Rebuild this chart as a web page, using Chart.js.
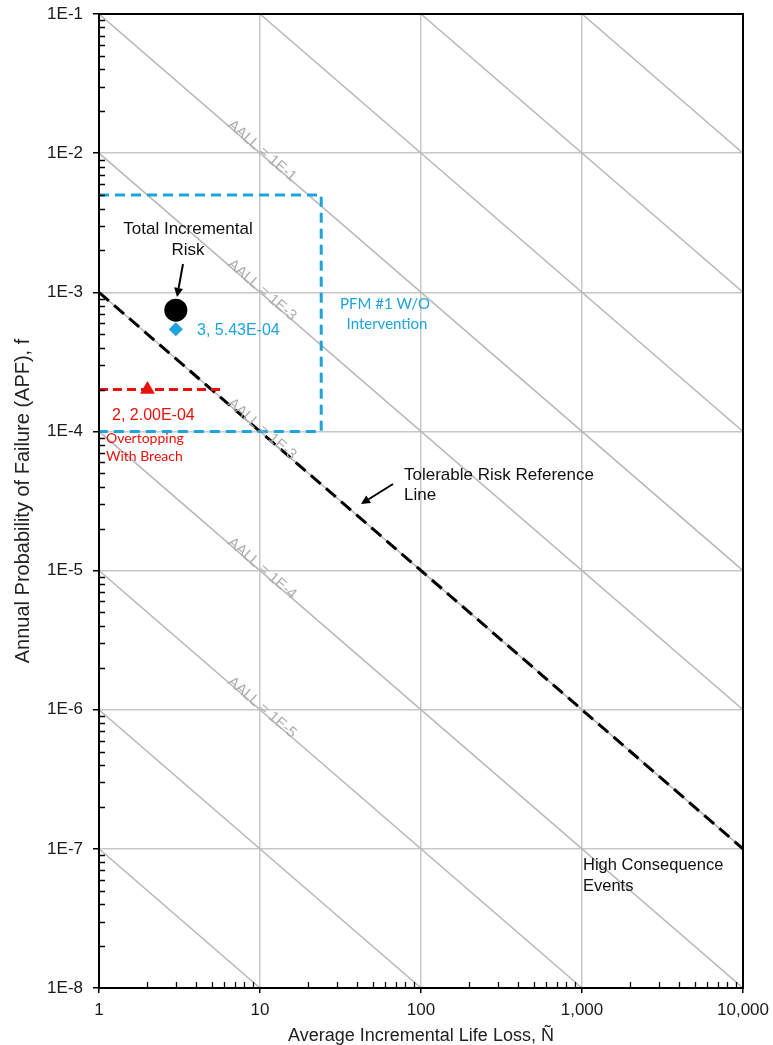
<!DOCTYPE html>
<html>
<head>
<meta charset="utf-8">
<script src="https://cdn.jsdelivr.net/npm/chart.js@4/dist/chart.umd.min.js"></script>
<style>
  html, body { margin: 0; padding: 0; background: #fff; }
  #wrap { width: 773px; height: 1045px; position: relative; }
</style>
</head>
<body>
<div id="wrap"><canvas id="grafico-risco"></canvas></div>
<script>
// eixos (log)
var xTickValues = [1, 10, 100, 1000, 10000];
var xTickLabels = ['1', '10', '100', '1,000', '10,000'];
var yTickValues = [1e-8, 1e-7, 1e-6, 1e-5, 1e-4, 1e-3, 1e-2, 1e-1];
var yTickLabels = ['1E-8', '1E-7', '1E-6', '1E-5', '1E-4', '1E-3', '1E-2', '1E-1'];
var minorSteps = [2, 3, 4, 5, 6, 7, 8, 9];

// linhas AALL (N * f = constante), pontos inicial e final
var aallStartN = [1, 1, 1, 1, 1, 1, 1, 10, 100, 1000];
var aallStartF = [1e-7, 1e-6, 1e-5, 1e-4, 1e-3, 1e-2, 1e-1, 1e-1, 1e-1, 1e-1];
var aallEndN = [10, 100, 1000, 10000, 10000, 10000, 10000, 10000, 10000, 10000];
var aallEndF = [1e-8, 1e-8, 1e-8, 1e-8, 1e-7, 1e-6, 1e-5, 1e-4, 1e-3, 1e-2];

// linha de referencia de risco toleravel
var toleravelN = [1, 10000];
var toleravelF = [1e-3, 1e-7];

// PFM #1 sem intervencao (caixa tracejada)
var pfmBoxN = [1, 24, 24, 1];
var pfmBoxF = [5e-3, 5e-3, 1e-4, 1e-4];

// overtopping with breach
var overtopLineN = [1, 5.8];
var overtopLineF = [2e-4, 2e-4];
var overtopPointN = [2];
var overtopPointF = [2.00e-4];

var pfmPointN = [3];
var pfmPointF = [5.43e-4];

var totalPointN = [3];
var totalPointF = [7.43e-4];

var azul = '#1ea3dd';
var vermelho = '#e8120c';
var cinza = '#b8b8b8';

function pts(xs, ys) {
    return xs.map(function (x, i) { return { x: x, y: ys[i] }; });
}

function withMinors(majors) {
    var out = [];
    majors.forEach(function (m, i) {
        out.push(m);
        if (i < majors.length - 1) {
            minorSteps.forEach(function (s) { out.push(m * s); });
        }
    });
    return out;
}

function isMajor(v) {
    if (v === undefined || v === null) return false;
    var l = Math.log10(v);
    return Math.abs(l - Math.round(l)) < 1e-6;
}

var datasets = [];

datasets.push({ // total incremental risk
    data: pts(totalPointN, totalPointF),
    pointStyle: 'circle', pointRadius: 11.5,
    backgroundColor: '#000', borderColor: '#000', borderWidth: 0
});
datasets.push({
    data: pts(pfmPointN, pfmPointF),
    pointStyle: 'rectRot', pointRadius: 7,
    backgroundColor: azul, borderColor: azul, borderWidth: 0
});
datasets.push({
    data: pts(overtopPointN, overtopPointF),
    pointStyle: 'triangle', pointRadius: 8.5,
    backgroundColor: vermelho, borderColor: vermelho, borderWidth: 0
});
datasets.push({
    data: pts(overtopLineN, overtopLineF),
    showLine: true, pointRadius: 0,
    borderColor: vermelho, borderWidth: 3, borderDash: [9, 5]
});
datasets.push({
    data: pts(pfmBoxN, pfmBoxF),
    showLine: true, pointRadius: 0,
    borderColor: azul, borderWidth: 3, borderDash: [10, 6]
});
datasets.push({
    data: pts(toleravelN, toleravelF),
    showLine: true, pointRadius: 0,
    borderColor: '#000', borderWidth: 3, borderDash: [13, 7]
});
aallStartN.forEach(function (n, i) {
    datasets.push({
        data: pts([n, aallEndN[i]], [aallStartF[i], aallEndF[i]]),
        showLine: true, pointRadius: 0,
        borderColor: cinza, borderWidth: 1.5
    });
});

// textos e setas
var textos = [
    { t: 'Total Incremental', x: 188, y: 229, font: '17px "Liberation Sans"', c: '#111', a: 'center' },
    { t: 'Risk', x: 188, y: 250, font: '17px "Liberation Sans"', c: '#111', a: 'center' },
    { t: '3, 5.43E-04', x: 197, y: 331, font: '16px "Liberation Sans"', c: azul, a: 'left' },
    { t: '2, 2.00E-04', x: 112, y: 416, font: '16px "Liberation Sans"', c: vermelho, a: 'left' },
    { t: 'Overtopping', x: 106, y: 438, font: '14px Lato', c: vermelho, a: 'left' },
    { t: 'With Breach', x: 106, y: 456, font: '14px Lato', c: vermelho, a: 'left' },
    { t: 'PFM #1 W/O', x: 385, y: 304, font: '15px Lato', c: azul, a: 'center' },
    { t: 'Intervention', x: 387, y: 324, font: '15px Lato', c: azul, a: 'center' },
    { t: 'Tolerable Risk Reference', x: 404, y: 475, font: '17px "Liberation Sans"', c: '#111', a: 'left' },
    { t: 'Line', x: 404, y: 495, font: '17px "Liberation Sans"', c: '#111', a: 'left' },
    { t: 'High Consequence', x: 583, y: 865, font: '16.5px "Liberation Sans"', c: '#111', a: 'left' },
    { t: 'Events', x: 583, y: 886, font: '16.5px "Liberation Sans"', c: '#111', a: 'left' }
];
var setas = [
    { x1: 183, y1: 264, x2: 177, y2: 297 },
    { x1: 393, y1: 484, x2: 361, y2: 504 }
];
var aallRotulos = [
    { t: 'AALL = 1E-1', f: 1e-2 },
    { t: 'AALL = 1E-3', f: 1e-3 },
    { t: 'AALL = 1E-3', f: 1e-4 },
    { t: 'AALL = 1E-4', f: 1e-5 },
    { t: 'AALL = 1E-5', f: 1e-6 }
];

var anotacoes = {
    id: 'anotacoes',
    afterDraw: function (chart) {
        var ctx = chart.ctx;
        var area = chart.chartArea;
        var xs = chart.scales.x, ys = chart.scales.y;
        ctx.save();

        // tracos menores para dentro
        ctx.strokeStyle = '#000';
        ctx.lineWidth = 1.3;
        ctx.beginPath();
        xs.ticks.forEach(function (t) {
            if (isMajor(t.value)) return;
            var px = Math.round(xs.getPixelForValue(t.value)) + 0.5;
            ctx.moveTo(px, area.bottom);
            ctx.lineTo(px, area.bottom - 6);
        });
        ys.ticks.forEach(function (t) {
            if (isMajor(t.value)) return;
            var py = Math.round(ys.getPixelForValue(t.value)) + 0.5;
            ctx.moveTo(area.left, py);
            ctx.lineTo(area.left + 6, py);
        });
        ctx.stroke();

        // moldura
        ctx.lineWidth = 2;
        ctx.strokeRect(area.left, area.top, area.right - area.left, area.bottom - area.top);

        // rotulos AALL inclinados
        var ang = Math.atan2(ys.getPixelForValue(1e-2) - ys.getPixelForValue(1e-1),
            xs.getPixelForValue(10) - xs.getPixelForValue(1));
        ctx.fillStyle = '#adadad';
        ctx.font = '15px "Liberation Sans"';
        ctx.textAlign = 'center';
        ctx.textBaseline = 'middle';
        aallRotulos.forEach(function (r) {
            ctx.save();
            ctx.translate(xs.getPixelForValue(10), ys.getPixelForValue(r.f));
            ctx.rotate(ang);
            ctx.fillText(r.t, 0, -3);
            ctx.restore();
        });

        textos.forEach(function (o) {
            ctx.font = o.font;
            ctx.fillStyle = o.c;
            ctx.textAlign = o.a;
            ctx.textBaseline = 'middle';
            ctx.fillText(o.t, o.x, o.y);
        });

        ctx.strokeStyle = '#000';
        ctx.fillStyle = '#000';
        ctx.lineWidth = 2;
        setas.forEach(function (s) {
            var a = Math.atan2(s.y2 - s.y1, s.x2 - s.x1);
            var hl = 9, hw = 4.5;
            var bx = s.x2 - hl * Math.cos(a), by = s.y2 - hl * Math.sin(a);
            ctx.beginPath();
            ctx.moveTo(s.x1, s.y1);
            ctx.lineTo(bx, by);
            ctx.stroke();
            ctx.beginPath();
            ctx.moveTo(s.x2, s.y2);
            ctx.lineTo(bx + hw * Math.sin(a), by - hw * Math.cos(a));
            ctx.lineTo(bx - hw * Math.sin(a), by + hw * Math.cos(a));
            ctx.closePath();
            ctx.fill();
        });
        ctx.restore();
    }
};

var ctx = document.getElementById('grafico-risco').getContext('2d');
var meuGrafico = new Chart(ctx, {
    type: 'scatter',
    data: { datasets: datasets },
    options: {
        responsive: true,
        maintainAspectRatio: false,
        animation: false,
        layout: { padding: { left: 0, right: 30, top: 14, bottom: 0 } },
        plugins: {
            legend: { display: false },
            tooltip: { enabled: false }
        },
        scales: {
            x: {
                type: 'logarithmic',
                min: 1, max: 10000,
                afterBuildTicks: function (s) {
                    s.ticks = withMinors(xTickValues).map(function (v) { return { value: v }; });
                },
                afterFit: function (s) {
                    s.height = 57;
                    s.paddingLeft = 0;
                    s.paddingRight = 0;
                },
                ticks: {
                    autoSkip: false, maxRotation: 0, padding: 7,
                    color: '#1a1a1a',
                    font: { family: 'Liberation Sans', size: 17 },
                    callback: function (v) {
                        var i = xTickValues.findIndex(function (m) { return Math.abs(m - v) < 1e-9 * m; });
                        return i >= 0 ? xTickLabels[i] : '';
                    }
                },
                grid: {
                    color: function (c) { return isMajor(c.tick && c.tick.value) ? '#c8c8c8' : 'rgba(0,0,0,0)'; },
                    tickColor: function (c) { return isMajor(c.tick && c.tick.value) ? '#000' : 'rgba(0,0,0,0)'; },
                    lineWidth: 1.5, tickWidth: 1.5, tickLength: 5
                },
                border: { color: '#000', width: 2 },
                title: {
                    display: true,
                    text: 'Average Incremental Life Loss, Ñ',
                    color: '#222',
                    font: { family: 'Liberation Sans', size: 18, lineHeight: 1.0 },
                    padding: { top: 0, bottom: 0 }
                }
            },
            y: {
                type: 'logarithmic',
                min: 1e-8, max: 1e-1,
                afterBuildTicks: function (s) {
                    s.ticks = withMinors(yTickValues).map(function (v) { return { value: v }; });
                },
                afterFit: function (s) {
                    s.width = 99;
                    s.paddingTop = 0;
                    s.paddingBottom = 0;
                },
                ticks: {
                    autoSkip: false, padding: 10,
                    color: '#1a1a1a',
                    font: { family: 'Liberation Sans', size: 17 },
                    callback: function (v) {
                        var i = yTickValues.findIndex(function (m) { return Math.abs(m - v) < 1e-6 * m; });
                        return i >= 0 ? yTickLabels[i] : '';
                    }
                },
                grid: {
                    color: function (c) { return isMajor(c.tick && c.tick.value) ? '#c8c8c8' : 'rgba(0,0,0,0)'; },
                    tickColor: function (c) { return isMajor(c.tick && c.tick.value) ? '#000' : 'rgba(0,0,0,0)'; },
                    lineWidth: 1.5, tickWidth: 1.5, tickLength: 6
                },
                border: { color: '#000', width: 2 },
                title: {
                    display: true,
                    text: 'Annual Probability of Failure (APF), f',
                    color: '#222',
                    font: { family: 'Liberation Sans', size: 20, lineHeight: 1.0 },
                    padding: { top: 13, bottom: 0 }
                }
            }
        }
    },
    plugins: [anotacoes]
});
</script>
</body>
</html>
